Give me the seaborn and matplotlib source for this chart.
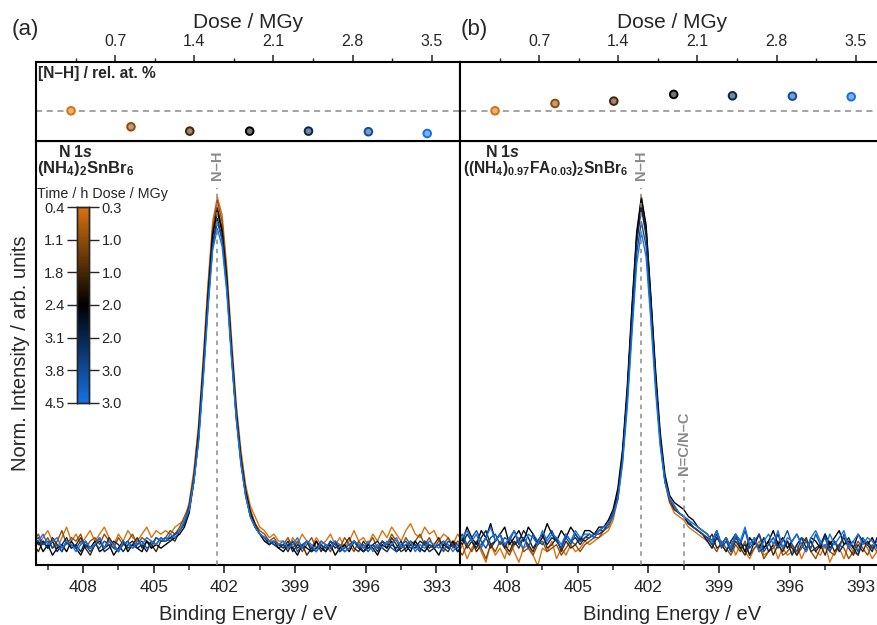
import numpy as np
import pandas as pd
import matplotlib
matplotlib.use('Agg')
import matplotlib.pyplot as plt
import seaborn as sns
from matplotlib.colors import LinearSegmentedColormap, to_rgb

sns.set_style('ticks')
plt.rcParams['font.family'] = ['Liberation Sans', 'DejaVu Sans']
plt.rcParams['mathtext.fontset'] = 'custom'
plt.rcParams['mathtext.rm'] = 'Liberation Sans'
plt.rcParams['mathtext.it'] = 'Liberation Sans:italic'
plt.rcParams['mathtext.bf'] = 'Liberation Sans:bold'
plt.rcParams['mathtext.bfit'] = 'Liberation Sans:italic:bold'

# ---------------- data ----------------
time_h = [0.4, 1.1, 1.8, 2.4, 3.1, 3.8, 4.5]
dose_cbar_labels = ['0.3', '1.0', '1.0', '2.0', '2.0', '3.0', '3.0']
time_cbar_labels = ['0.4', '1.1', '1.8', '2.4', '3.1', '3.8', '4.5']
dose_mgy = [0.31, 0.84, 1.36, 1.89, 2.41, 2.94, 3.46]
nh_a = [100.0, 91.9, 89.7, 89.7, 89.7, 89.4, 88.5]
nh_b = [100.0, 103.7, 104.9, 108.3, 107.6, 107.4, 107.1]
nh_ref = 100.0
dose_ticks = [0.7, 1.4, 2.1, 2.8, 3.5]
be_ticks = [408, 405, 402, 399, 396, 393]
peak_NH = 402.3
peak_NC = 400.5
energy = np.round(np.linspace(410.1, 391.9, 92), 1)

# panel (a): (NH4)2SnBr6, normalised intensity in %
a_t04 = [4,1,3,5,2,0,3,6,2,4, 1,3,5,2,4,6,3,1,4,2, 5,3,2,4,6,3,5,4,
         5,4,6,7,8,13,22,35,54,75, 93,100,95,80,60,41,28,18,12,9, 6,5,3,4,2,
         2,0,3,1,4,2,0,3,1,2, 4,1,3,0,2,5,2,3,1,4, 2,5,3,6,4,2,5,7,4,3, 6,4,5,2,4,3,1,4,2]
a_t11 = [2,4,1,3,0,2,5,1,3,2, 4,0,2,3,1,4,2,0,3,1, 2,4,1,3,2,0,3,2,
         3,5,4,6,9,12,21,34,53,74, 91,99,93,78,58,40,26,17,11,7, 5,4,2,3,1,
         1,3,0,2,-1,1,3,0,2,1, -1,2,0,3,1,-1,2,0,1,3, 0,2,1,4,2,0,3,1,2,4, 1,3,0,2,1,3,0,2,1]
a_t18 = [1,-1,2,0,3,1,-1,2,0,1, 3,0,-2,1,2,0,3,1,-1,2, 0,1,3,0,2,1,-1,2,
         2,3,2,5,7,12,20,33,51,72, 90,97,91,77,57,39,26,16,10,7, 4,3,2,1,0,
         1,-1,2,0,1,-2,0,2,-1,1, 0,2,-1,1,3,0,-1,2,0,1, -1,2,0,3,1,-1,0,2,1,-1, 2,0,1,3,0,-1,2,1,0]
a_t24 = [0,2,-1,1,-2,0,1,-1,2,0, -2,1,0,2,-1,0,1,-2,0,2, -1,1,0,-1,2,0,1,0,
         1,2,3,4,6,10,19,32,51,71, 89,96,90,76,56,38,25,16,10,6, 4,2,1,2,0,
         -1,1,0,-2,1,0,-1,2,0,-1, 1,-2,0,1,-1,2,0,-1,1,0, -2,1,0,2,-1,0,1,-1,2,0, -1,1,0,-2,1,0,2,-1,0]
a_t31 = [3,1,2,0,2,-1,1,3,0,1, -1,2,0,1,3,-1,0,2,1,-1, 1,2,0,1,-1,2,1,3,
         2,3,4,5,7,11,19,31,50,70, 87,94,88,75,55,38,25,15,9,6, 4,3,1,2,1,
         0,2,-1,1,0,2,-1,0,1,-1, 2,0,1,-1,0,2,1,-1,0,1, 2,0,-1,1,0,2,-1,1,0,2, 1,-1,0,1,2,0,1,-1,1]
a_t38 = [2,3,1,2,0,1,-1,2,1,0, 2,1,-1,1,0,2,1,0,-1,1, 2,0,1,2,0,1,3,2,
         3,2,4,5,7,11,19,31,49,69, 86,93,88,74,55,37,24,15,9,6, 4,3,2,1,1,
         1,0,2,-1,1,2,0,-1,1,0, 2,1,-1,0,1,2,0,1,-1,1, 0,2,1,0,-1,1,2,0,1,-1, 2,1,0,1,-1,2,1,0,2]
a_t45 = [3,2,4,1,2,3,0,2,1,-1, 1,2,0,1,3,0,2,1,-1,2, 1,0,2,1,3,2,1,3,
         2,4,3,5,8,11,19,30,48,68, 85,91,86,73,54,37,24,15,9,6, 4,3,2,2,1,
         2,0,1,3,0,2,1,-1,2,1, 0,2,1,-1,0,2,1,0,2,-1, 1,0,2,1,3,0,1,2,-1,1, 0,2,1,0,2,1,-1,1,2]

# panel (b): ((NH4)0.97FA0.03)2SnBr6
b_t04 = [-2,1,-3,0,2,-1,-4,1,-2,0, -3,2,-1,-4,0,1,-2,-5,0,-1, 2,-3,0,-2,1,-1,0,2,
         1,2,3,4,5,8,14,26,44,67, 89,100,91,71,49,31,19,13,10,9, 8,6,5,4,3,
         2,0,3,1,-1,2,-2,1,-1,-3, 0,2,-2,-1,1,-3,0,-2,-1,1, -3,0,2,-1,-2,1,-4,-1,0,-3, 1,-1,-2,2,0,-3,-1,1,-2]
b_t11 = [0,-2,1,-1,2,0,-3,1,-1,2, 0,-2,1,3,-1,0,-2,1,2,-1, 0,1,-2,0,2,1,-1,1,
         2,3,3,5,6,9,15,26,44,67, 89,99,91,71,49,31,19,13,11,10, 9,7,6,5,4,
         3,1,-1,2,0,-2,1,-1,2,-2, 0,1,-3,-1,0,2,-2,-1,1,-2, 0,2,-1,-3,0,1,-1,-2,1,0, -3,-1,2,0,-2,1,-1,0,-2]
b_t18 = [1,3,0,2,-1,1,3,0,2,4, 1,-1,2,0,3,1,-1,2,4,0, 1,3,-1,2,0,1,3,2,
         3,4,4,5,7,10,15,27,44,67, 88,98,90,70,49,31,20,14,11,10, 9,7,6,5,4,
         2,4,0,1,3,-1,2,0,-2,1, 3,-1,0,2,-2,1,-1,2,0,-2, 1,3,-1,0,1,-2,2,-1,1,3, 0,-2,1,-1,2,0,1,-2,0]
b_t24 = [4,2,6,3,1,5,3,7,2,4, 6,1,3,5,2,6,4,1,3,7, 4,2,5,3,6,4,2,5,
         5,4,6,6,8,11,17,28,46,69, 90,100,92,72,51,33,21,15,13,12, 11,9,8,6,5,
         4,2,5,1,3,0,4,2,-1,3, 1,4,0,2,5,1,3,0,2,4, 1,-1,3,2,0,4,1,3,5,1, 2,0,4,2,1,3,0,2,1]
b_t31 = [3,1,4,2,0,3,5,1,2,4, 0,3,1,2,5,3,0,2,4,1, 3,2,0,4,2,3,1,3,
         4,3,5,6,7,10,15,26,43,66, 87,97,89,70,48,31,20,14,12,10, 9,7,6,5,4,
         2,0,3,1,-1,2,4,0,1,-2, 2,0,3,-1,1,4,0,2,-2,1, 3,0,2,-1,1,4,0,2,-1,1, 3,0,-2,2,1,-1,3,0,1]
b_t38 = [2,4,1,3,5,2,0,3,4,1, 3,2,5,1,3,0,4,2,1,3, 5,2,0,3,1,4,2,3,
         3,4,5,5,7,10,14,25,42,63, 84,93,86,67,47,30,19,14,12,10, 9,8,6,5,4,
         3,1,4,0,2,-1,3,1,5,0, 2,4,-1,1,3,0,2,5,1,-1, 3,2,0,4,1,3,-1,2,0,4, 1,2,-1,3,1,0,2,4,1]
b_t45 = [1,3,5,2,4,0,3,6,2,4, 1,3,5,2,0,4,3,1,5,2, 4,3,1,4,2,5,3,4,
         4,3,5,6,7,9,14,24,40,61, 81,90,83,65,45,29,19,14,12,10, 9,8,7,6,5,
         4,2,5,1,3,0,4,2,6,1, 3,-1,2,4,1,5,0,3,2,4, 1,-1,3,5,2,0,4,1,3,5, 0,2,4,1,3,2,0,3,1]

series_a = [a_t04, a_t11, a_t18, a_t24, a_t31, a_t38, a_t45]
series_b = [b_t04, b_t11, b_t18, b_t24, b_t31, b_t38, b_t45]

# ---------------- styling ----------------
cmap = LinearSegmentedColormap.from_list('ob', ['#D9720F', '#000000', '#1673E6'])
line_colors = [cmap(k / 6) for k in range(7)]
fill_colors = [tuple(0.55 * np.array(to_rgb(c)) + 0.45) for c in line_colors]
palette_lines = dict(zip(time_h, line_colors))
palette_fill = dict(zip(time_h, fill_colors))
GRAY = '#8a8a8a'

W, H = 877, 625
fig = plt.figure(figsize=(W / 100, H / 100), dpi=100)


def rect(x0, y0, x1, y1):
    return [x0 / W, 1 - y1 / H, (x1 - x0) / W, (y1 - y0) / H]


ax_a = fig.add_axes(rect(36, 141, 460, 565))
top_a = fig.add_axes(rect(36, 62, 460, 141))
ax_b = fig.add_axes(rect(460, 141, 884, 565))
top_b = fig.add_axes(rect(460, 62, 884, 141))


def long_frame(series):
    return pd.concat([pd.DataFrame({'energy': energy, 'intensity': s, 'time': time_h[k]})
                      for k, s in enumerate(series)], ignore_index=True)


YLO, YHI = -4.8, 116
for ax, series in ((ax_a, series_a), (ax_b, series_b)):
    sns.lineplot(data=long_frame(series), x='energy', y='intensity', hue='time',
                 palette=palette_lines, hue_order=time_h, legend=False, ax=ax,
                 lw=1.0, estimator=None, sort=False)
    ax.set_xlim(410, 392)
    ax.set_ylim(YLO, YHI)
    ax.set_xticks(be_ticks)
    ax.set_xticklabels([str(t) for t in be_ticks])
    ax.set_xticks([409.5, 406.5, 403.5, 400.5, 397.5, 394.5], minor=True)
    ax.set_yticks([])
    ax.tick_params(axis='x', which='major', direction='out', length=6, width=1.2,
                   labelsize=12.5, pad=5, bottom=True, top=False)
    ax.tick_params(axis='x', which='minor', direction='out', length=3.5, width=1.1,
                   bottom=True, top=False)
    ax.set_xlabel('Binding Energy / eV', fontsize=14.5, labelpad=7)
    ax.set_ylabel('')
    for sp in ax.spines.values():
        sp.set_linewidth(1.5)
        sp.set_color('black')
    ax.vlines(peak_NH, YLO, 102.5, colors=GRAY, linestyles=(0, (3, 3)), lw=1.1, zorder=5)
    ax.text(peak_NH, 109, 'N–H', rotation=90, ha='center', va='center',
            color=GRAY, fontsize=10.5, fontweight='bold')

ax_b.vlines(peak_NC, YLO, 19.5, colors=GRAY, linestyles=(0, (3, 3)), lw=1.1, zorder=5)
ax_b.text(peak_NC, 30, 'N=C/N–C', rotation=90, ha='center', va='center',
          color=GRAY, fontsize=10.5, fontweight='bold')

ax_a.set_ylabel('Norm. Intensity / arb. units', fontsize=14.5, labelpad=4)

ax_a.text(0.094, 0.974, r'$\mathbf{N\ 1}\mathbfit{s}$', transform=ax_a.transAxes,
          ha='center', va='center', fontsize=11.5)
ax_a.text(0.003, 0.935, r'$\mathbf{(NH_4)_2SnBr_6}$', transform=ax_a.transAxes,
          ha='left', va='center', fontsize=12)
ax_b.text(0.101, 0.974, r'$\mathbf{N\ 1}\mathbfit{s}$', transform=ax_b.transAxes,
          ha='center', va='center', fontsize=11.5)
ax_b.text(0.007, 0.935, r'$\mathbf{((NH_4)_{0.97}FA_{0.03})_2SnBr_6}$',
          transform=ax_b.transAxes, ha='left', va='center', fontsize=11.2)

# top panels
for top, vals in ((top_a, nh_a), (top_b, nh_b)):
    top.axhline(nh_ref, color=GRAY, ls=(0, (4, 3)), lw=1.1, zorder=1)
    df = pd.DataFrame({'dose': dose_mgy, 'nh': vals, 'time': time_h})
    sns.scatterplot(data=df, x='dose', y='nh', hue='time', palette=palette_fill,
                    hue_order=time_h, edgecolor=line_colors, linewidth=1.4, s=30,
                    legend=False, ax=top, zorder=3)
    top.set_xlim(0, 3.75)
    top.set_ylim(84.7, 124.7)
    top.xaxis.tick_top()
    top.xaxis.set_label_position('top')
    top.set_xticks(dose_ticks)
    top.set_xticklabels([f'{d:.1f}' for d in dose_ticks])
    top.set_xticks([0.35, 1.05, 1.75, 2.45, 3.15], minor=True)
    top.set_yticks([])
    top.tick_params(axis='x', which='major', direction='out', length=5, width=1.1,
                    labelsize=11.5, pad=4, top=True, bottom=False)
    top.tick_params(axis='x', which='minor', direction='out', length=3, width=1.0,
                    top=True, bottom=False)
    top.set_xlabel('Dose / MGy', fontsize=15, labelpad=5)
    top.set_ylabel('')
    for sp in top.spines.values():
        sp.set_linewidth(1.5)
        sp.set_color('black')

top_a.text(0.004, 0.86, '[N–H] / rel. at. %', transform=top_a.transAxes,
           ha='left', va='center', fontsize=11.2, fontweight='bold')

fig.text(12 / W, 1 - 29 / H, '(a)', fontsize=16, ha='left', va='center')
fig.text(461 / W, 1 - 29 / H, '(b)', fontsize=16, ha='left', va='center')

# colour bar
cax = fig.add_axes(rect(77, 207, 89, 403))
cax.imshow(np.linspace(0, 1, 256)[:, None], aspect='auto', cmap=cmap,
           extent=[0, 1, 6, 0])
cax.set_xticks([])
cax.set_yticks(range(7))
cax.set_yticklabels(time_cbar_labels)
cax.tick_params(axis='y', direction='out', length=7, width=1.0, labelsize=10.5, pad=2)
cax2 = cax.twinx()
cax2.set_ylim(6, 0)
cax2.set_yticks(range(7))
cax2.set_yticklabels(dose_cbar_labels)
cax2.tick_params(axis='y', direction='out', length=7, width=1.0, labelsize=10.5, pad=2)
for a in (cax, cax2):
    for sp in a.spines.values():
        sp.set_linewidth(1.0)
fig.text(37 / W, 1 - 194 / H, 'Time / h Dose / MGy', fontsize=10.3, ha='left', va='center')

fig.savefig('out.png', dpi=100)
